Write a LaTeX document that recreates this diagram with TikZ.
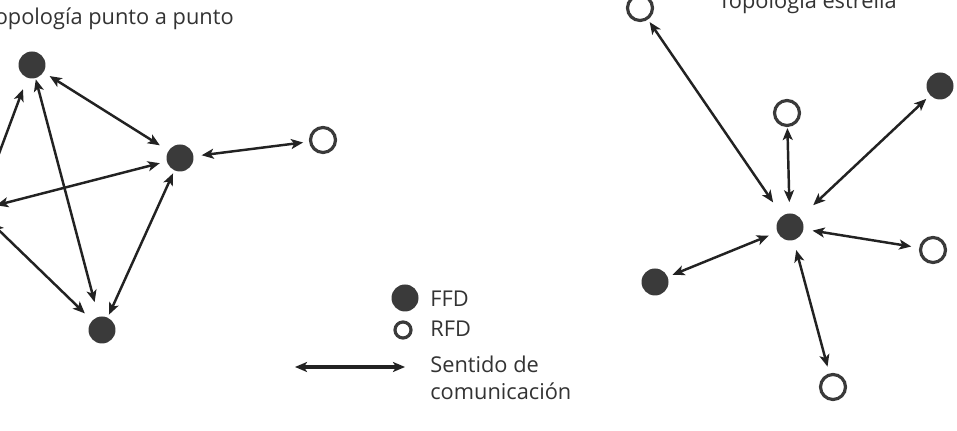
\documentclass[tikz,border=0pt]{standalone}
\usepackage{fontspec}
\setmainfont{Open Sans}
\usepackage{xcolor}
\usepackage{tikz}
\usetikzlibrary{arrows.meta, positioning}

\definecolor{nodegray}{HTML}{3A3A3A}
\definecolor{linegray}{HTML}{222222}
\definecolor{textgray}{HTML}{333333}

\begin{document}
\begin{tikzpicture}[
  x=0.02cm, y=-0.02cm,
  font=\fontsize{12.4}{15}\selectfont,
  label/.style={text=textgray, inner sep=0pt, anchor=base west},
  ffd/.style={circle, fill=nodegray, minimum size=0.54cm, inner sep=0pt},
  rfd/.style={circle, draw=nodegray, line width=1.8pt, fill=white, minimum size=0.5cm, inner sep=0pt},
  rfdsmall/.style={rfd, minimum size=0.32cm},
  link/.style={{Stealth[length=0.24cm, width=0.2cm, inset=0.06cm]}-{Stealth[length=0.24cm, width=0.2cm, inset=0.06cm]},
    draw=linegray, line width=1.4pt}
]
  \useasboundingbox[fill=white] (0,0) rectangle (957,431);

  \node[label, anchor=base east] (titlePP) at (234,25) {Topología punto a punto};
  \node[label, anchor=base east] (titleST) at (897,9) {Topología estrella};

  \node[ffd] (ppTop) at (32,65) {};
  \node[ffd] (ppRight) at (180,158) {};
  \node[ffd] (ppBottom) at (102,330) {};
  \node[ffd] (ppLeft) at (-22,210) {};
  \node[rfd] (ppEnd) at (323,140) {};

  \draw[link, shorten <=0.14cm, shorten >=0.2cm] (ppTop) -- (ppRight);
  \draw[link, shorten <=0.16cm, shorten >=0.12cm] (ppRight) -- (ppEnd);
  \draw[link, shorten <=0.02cm, shorten >=0.3cm] (ppTop) -- (ppBottom);
  \draw[link, shorten <=0.06cm, shorten >=0.06cm] (ppRight) -- (ppBottom);
  \draw[link, shorten <=0.1cm, shorten >=0.24cm] (ppLeft) -- (ppTop);
  \draw[link, shorten <=0.1cm, shorten >=0.14cm] (ppLeft) -- (ppRight);
  \draw[link, shorten <=0.1cm, shorten >=0.2cm] (ppLeft) -- (ppBottom);

  \node[ffd] (stCenter) at (790,227) {};
  \node[rfd] (stTopLeft) at (640,8) {};
  \node[rfd] (stMid) at (787,113) {};
  \node[ffd] (stTopRight) at (940,86) {};
  \node[rfd] (stRight) at (933,250) {};
  \node[ffd] (stLowLeft) at (655,282) {};
  \node[rfd] (stBottom) at (833,387) {};

  \draw[link, shorten <=0.32cm, shorten >=0.06cm] (stCenter) -- (stTopLeft);
  \draw[link, shorten <=0.22cm, shorten >=0.02cm] (stCenter) -- (stMid);
  \draw[link, shorten <=0.36cm, shorten >=0.1cm] (stCenter) -- (stTopRight);
  \draw[link, shorten <=0.18cm, shorten >=0.16cm] (stCenter) -- (stRight);
  \draw[link, shorten <=0.18cm, shorten >=0.1cm] (stCenter) -- (stLowLeft);
  \draw[link, shorten <=0.2cm, shorten >=0.14cm] (stCenter) -- (stBottom);

  \node[ffd] (keyFFD) at (405,298) {};
  \node[label] (keyFFDtxt) at (430,307) {FFD};
  \node[rfdsmall] (keyRFD) at (403,330) {};
  \node[label] (keyRFDtxt) at (430,337) {RFD};
  \coordinate (keyL) at (295,367);
  \coordinate (keyR) at (405,367);
  \draw[link, line width=1.8pt] (keyL) -- (keyR);
  \node[label] (keyLinkA) at (430,373) {Sentido de};
  \node[label] (keyLinkB) at (430,400) {comunicación};
\end{tikzpicture}
\end{document}
